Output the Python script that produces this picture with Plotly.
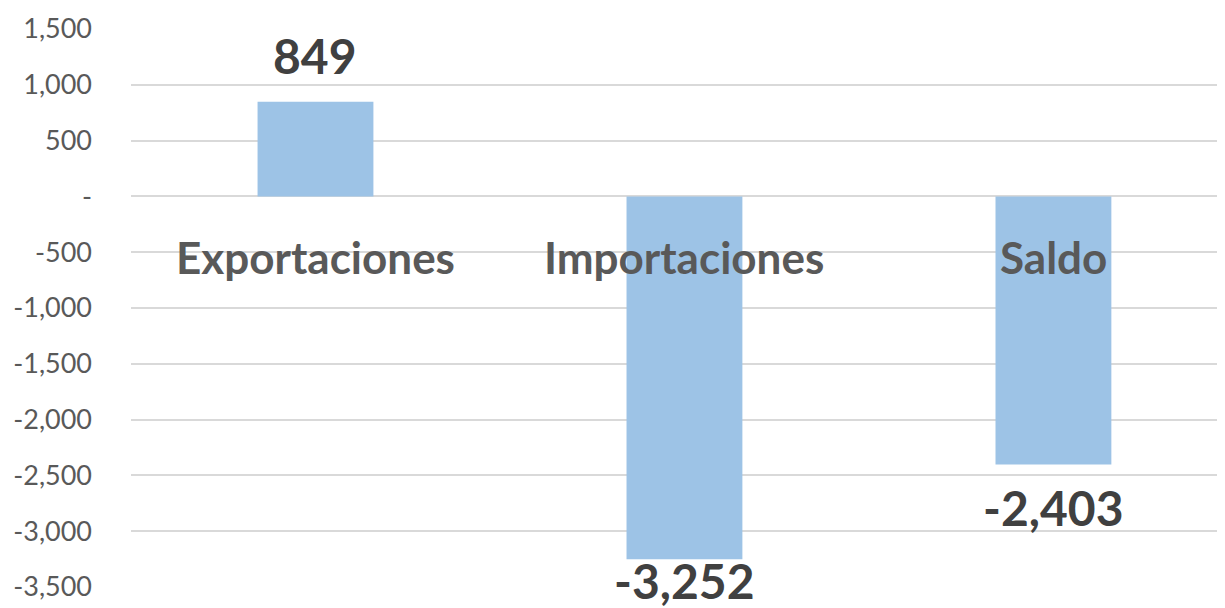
import plotly.graph_objects as go

categories = ["Exportaciones", "Importaciones", "Saldo"]
values = [849, -3252, -2403]
value_labels = ["849", "-3,252", "-2,403"]
tick_vals = [1500, 1000, 500, 0, -500, -1000, -1500, -2000, -2500, -3000, -3500]
tick_text = ["1,500", "1,000", "500", "-", "-500", "-1,000", "-1,500", "-2,000", "-2,500", "-3,000", "-3,500"]
category_label_y = -545

# pixel offsets of the value labels from the bar ends (style, not data)
label_shifts = [16, 9, -12]

BAR = "#9DC3E6"
GRID = "#D9D9D9"
DARK = "#404040"
CAT = "#595959"
TICK = "#595959"

fig = go.Figure()
fig.add_trace(go.Bar(x=categories, y=values, marker=dict(color=BAR, line=dict(width=0)),
                     width=0.314, hoverinfo="skip"))

for c, v, t, s in zip(categories, values, value_labels, label_shifts):
    fig.add_annotation(x=c, y=v, text=t, showarrow=False,
                       yanchor="bottom" if v > 0 else "top",
                       yshift=s,
                       font=dict(family="Lato", size=48, color=DARK, weight="bold"))
    fig.add_annotation(x=c, y=category_label_y, text=c, showarrow=False,
                       yanchor="middle",
                       font=dict(family="Lato", size=44, color=CAT, weight="bold"))

fig.update_layout(
    width=1217, height=600,
    margin=dict(l=123, r=0, t=21, b=21),
    paper_bgcolor="white", plot_bgcolor="white",
    showlegend=False,
    xaxis=dict(range=[-0.5, 2.465], showticklabels=False, showgrid=False, zeroline=False,
               showline=False, fixedrange=True),
    yaxis=dict(range=[-3500, 1500], tickvals=tick_vals, ticktext=tick_text,
               showgrid=True, gridcolor=GRID, gridwidth=1.5, zeroline=True,
               zerolinecolor=GRID, zerolinewidth=1.5, showline=False, ticks="",
               ticklabelstandoff=38,
               tickfont=dict(family="Lato", size=27, color=TICK)),
)

fig.write_html("out.html")
